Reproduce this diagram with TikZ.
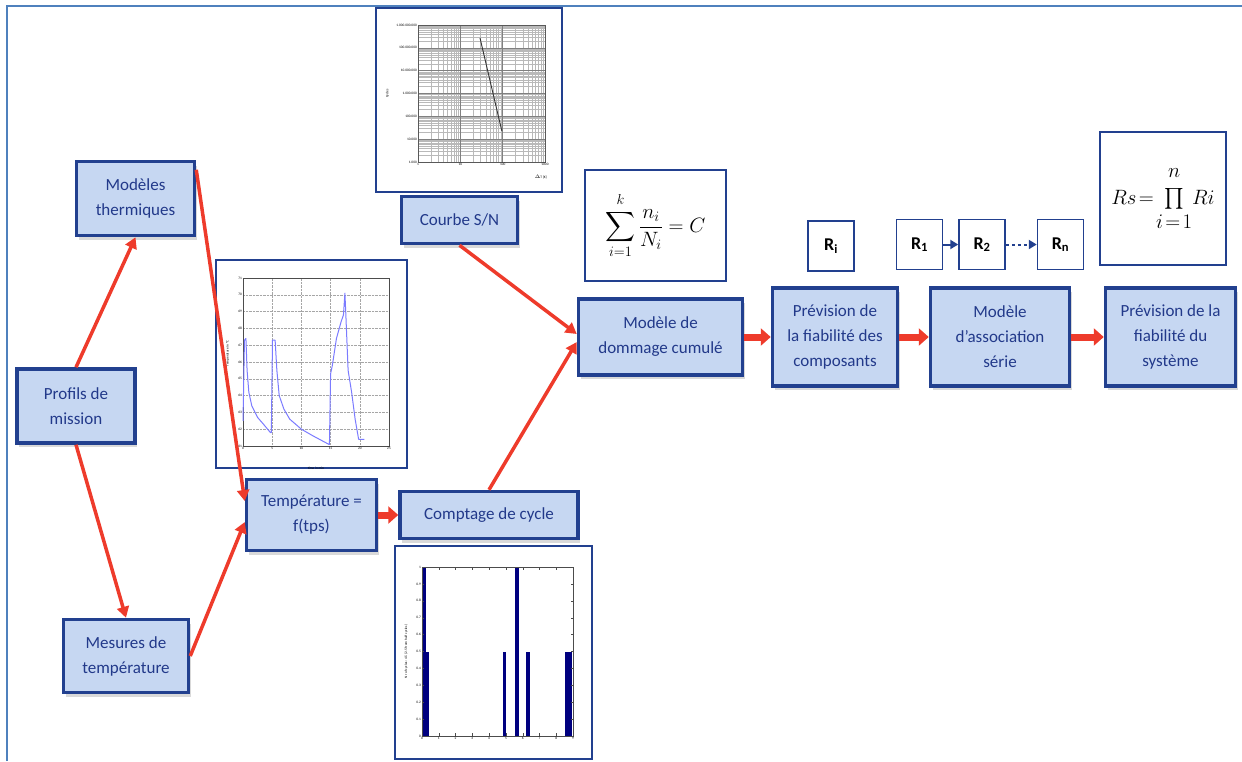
\documentclass[tikz,border=0pt]{standalone}
\usepackage{amsmath}
\usepackage{fontspec}
\setmainfont{Carlito}
\usetikzlibrary{arrows.meta, positioning, calc, shadows}
\definecolor{frameblue}{HTML}{4F81BD}
\definecolor{boxedge}{HTML}{22408F}
\definecolor{boxfill}{HTML}{C6D7F2}
\definecolor{boxtext}{HTML}{22398A}
\definecolor{flowred}{HTML}{EE3B2B}
\definecolor{plotblue}{HTML}{7B7BFF}
\definecolor{barnavy}{HTML}{00007F}
\newcommand{\stagefont}{\fontsize{17}{25}\selectfont}
\newcommand{\stagebox}[5]{%
  \node[draw=boxedge, line width=3.5pt, fill=boxfill, text=boxtext,
        align=center, font=\stagefont, inner sep=1pt,
        minimum width=#3pt, minimum height=#4pt,
        drop shadow={opacity=.3, shadow xshift=2pt, shadow yshift=-4pt}]
        (#1) at (#2) {#5};}

\begin{document}
\begin{tikzpicture}[x=1pt, y=-1pt,
    flow/.style={draw=flowred, line width=3.5pt, -{Triangle[length=11pt, width=12pt]}},
    fatflow/.style={draw=flowred, line width=7pt, -{Triangle[length=10pt, width=17pt]}},
    figbox/.style={draw=boxedge, line width=2.5pt, fill=white},
    rbox/.style={draw=boxedge, line width=1.5pt, fill=white, minimum width=46pt,
                 minimum height=50pt, inner sep=0pt, font=\bfseries\fontsize{18}{20}\selectfont},
    rlink/.style={draw=boxedge, line width=2pt, -{Triangle[length=8pt, width=9pt]}},
    ticklab/.style={font=\fontsize{3.5}{4}\selectfont, inner sep=1pt}]
  \useasboundingbox (0,0) rectangle (1242,761);
  \draw[frameblue, line width=2.5pt] (7,761) -- (7,6) -- (1242,6);

  % S/N curve
  \draw[figbox] (376,8) rectangle (562,192);
  \begin{scope}[shift={(418,162)}, x=42.33pt, y=22.83pt]
    \foreach \d in {0,1,2} {
      \foreach \k in {2,...,9}
        \draw[gray!55, line width=.3pt] ({\d+ln(\k)/ln(10)},0) -- ++(0,6);
    }
    \foreach \d in {0,...,5} {
      \foreach \k in {2,...,9}
        \draw[gray!55, line width=.3pt] (0,{\d+ln(\k)/ln(10)}) -- ++(3,0);
    }
    \foreach \d in {1,2} \draw[gray, line width=.5pt] (\d,0) -- (\d,6);
    \foreach \d in {1,...,5} \draw[gray, line width=.5pt] (0,\d) -- (3,\d);
    \draw[gray!70!black, line width=.5pt] (0,0) rectangle (3,6);
    \draw[black!80, line width=.9pt] (1.465,5.43) -- (1.98,1.36);
    \foreach \x/\t in {0/1,1/10,2/100,3/1000}
      \node[ticklab, below] at (\x,0) {\t};
    \foreach \y/\t in {0/1.000,1/10.000,2/100.000,3/1.000.000,4/10.000.000,5/100.000.000,6/1.000.000.000}
      \node[ticklab, left] at (0,\y) {\t};
    \node[ticklab, rotate=90] at (-0.72,3) {Cycles};
    \node[ticklab] at (2.9,-0.68) {$\Delta$T [K]};
  \end{scope}

  % temperature profile
  \draw[figbox] (216,260) rectangle (407,468);
  \begin{scope}[shift={(243,446)}, x=5.84pt, y=16.8pt]
    \foreach \x in {5,10,15,20}
      \draw[gray!70, densely dotted, line width=.4pt] (\x,0) -- (\x,10);
    \foreach \y in {1,...,9}
      \draw[gray!70, densely dotted, line width=.4pt] (0,\y) -- (25,\y);
    \draw[black!70, line width=.4pt] (0,0) rectangle (25,10);
    \draw[plotblue, line width=1pt, line join=round]
      (0,1.5) -- (0.25,6.3) -- (0.5,6.4) -- (0.7,4.5) -- (1,3.2) -- (1.5,2.4)
      -- (2.5,1.7) -- (3.5,1.3) -- (4.7,0.8) -- (4.85,0.8) -- (5.05,6.3)
      -- (5.5,6.3) -- (5.8,4.5) -- (6.2,3.0) -- (7,2.2) -- (8,1.6) -- (10,1.0)
      -- (12,0.6) -- (14.7,0.1) -- (14.8,0.1) -- (15,4.3) -- (15.3,4.8)
      -- (16,6.4) -- (16.8,7.4) -- (17.2,7.8) -- (17.45,9.1) -- (17.6,7.9)
      -- (18,4.5) -- (18.6,3.2) -- (19.2,1.6) -- (19.8,0.4) -- (20.8,0.4);
    \foreach \x in {0,5,...,25}
      \node[ticklab, below] at (\x,0) {\x};
    \foreach \y [evaluate=\y as \t using int(61+\y)] in {0,...,10}
      \node[ticklab, left] at (0,\y) {\t};
    \node[ticklab] at (12.5,-1.3) {time in min};
    \node[ticklab, rotate=90] at (-2.6,5.5) {Temperature in °C};
  \end{scope}

  % cycle histogram
  \draw[figbox] (395,546) rectangle (592,759);
  \begin{scope}[shift={(422,736)}, x=16.78pt, y=169pt]
    \fill[barnavy] (0,0) rectangle (0.24,1);
    \fill[barnavy] (0.24,0) rectangle (0.44,0.5);
    \fill[barnavy] (4.83,0) rectangle (5.01,0.5);
    \fill[barnavy] (5.53,0) rectangle (5.77,1);
    \fill[barnavy] (6.22,0) rectangle (6.42,0.5);
    \fill[barnavy] (8.55,0) rectangle (8.95,0.5);
    \draw[black!70, line width=.4pt] (0,0) rectangle (9,1);
    \foreach \x in {0,...,9} {
      \draw[black!70, line width=.3pt] (\x,0) -- ++(0,0.015) (\x,1) -- ++(0,-0.015);
      \node[ticklab, below] at (\x,0) {\x};
    }
    \foreach \y [evaluate=\y as \v using \y/10] in {0,...,10} {
      \draw[black!70, line width=.3pt] (0,\v) -- ++(0.1,0) (9,\v) -- ++(-0.1,0);
    }
    \foreach \y/\t in {0/0,1/0.1,2/0.2,3/0.3,4/0.4,5/0.5,6/0.6,7/0.7,8/0.8,9/0.9,10/1}
      \node[ticklab, left] at (0,\y/10) {\t};
    \node[ticklab, rotate=90] at (-0.95,0.5) {Nr of cycles: 4.5 (2.5 from half cycles)};
  \end{scope}

  % formulas and reliabilities
  \node[draw=boxedge, line width=2pt, fill=white, minimum width=141pt,
        minimum height=111pt] (miner) at (655.5,225.5)
        {\fontsize{22}{26}\selectfont$\displaystyle\sum_{\rule{0pt}{9pt}i=1}^{k\rule[-4pt]{0pt}{0pt}}\frac{n_i}{N_i}=C$};
  \node[draw=boxedge, line width=2pt, fill=white, minimum width=126pt,
        minimum height=133pt, inner sep=1pt] (rsprod) at (1163,198.5)
        {\fontsize{22}{28}\selectfont$Rs\!=\!\prod\limits_{\rule{0pt}{16pt}\textstyle i\!=\!1}^{\textstyle n\rule[-9pt]{0pt}{0pt}}\!Ri$};
  \node[rbox] (ri) at (831,246) {R\textsubscript{i}};
  \node[rbox] (r1) at (919.5,244.5) {R\textsubscript{1}};
  \node[rbox] (r2) at (982,244.5) {R\textsubscript{2}};
  \node[rbox] (rn) at (1060.5,244.5) {R\textsubscript{n}};
  \draw[rlink] (r1) -- (r2);
  \draw[rlink, dashed] (r2) -- (rn);

  \stagebox{thermo}{135.5,198.5}{118}{74}{Modèles\\thermiques}
  \stagebox{profils}{76,406}{118}{74}{Profils de\\mission}
  \stagebox{mesures}{126,656}{125}{73}{Mesures de\\température}
  \stagebox{tempf}{311.5,515}{130}{71}{Température =\\f(tps)}
  \stagebox{comptage}{489,515}{178}{47}{Comptage de cycle}
  \stagebox{courbe}{459.5,220}{116}{47}{Courbe S/N}
  \stagebox{dommage}{660.5,337}{164}{76}{Modèle de\\dommage cumulé}
  \stagebox{fiabcomp}{835,337}{125}{98}{Prévision de\\la fiabilité des\\composants}
  \stagebox{assoc}{1000,337}{139}{98}{Modèle\\d'association\\série}
  \stagebox{fiabsys}{1170.5,337}{130}{98}{Prévision de la\\fiabilité du\\système}

  \draw[flow] (profils.north) -- (thermo.south);
  \draw[flow] (profils.south) -- (mesures.north);
  \draw[flow] ([yshift=-10pt]thermo.north east) -- ([yshift=14pt]tempf.west);
  \draw[flow] (mesures.east) -- ([yshift=-7pt]tempf.west);
  \draw[fatflow] (tempf) -- (comptage);
  \draw[flow] (comptage.north) -- ([yshift=-5pt]dommage.west);
  \draw[flow] (courbe.south) -- ([yshift=3pt]dommage.west);
  \draw[fatflow] (dommage) -- (fiabcomp);
  \draw[fatflow] (fiabcomp) -- (assoc);
  \draw[fatflow] (assoc) -- (fiabsys);
\end{tikzpicture}
\end{document}
